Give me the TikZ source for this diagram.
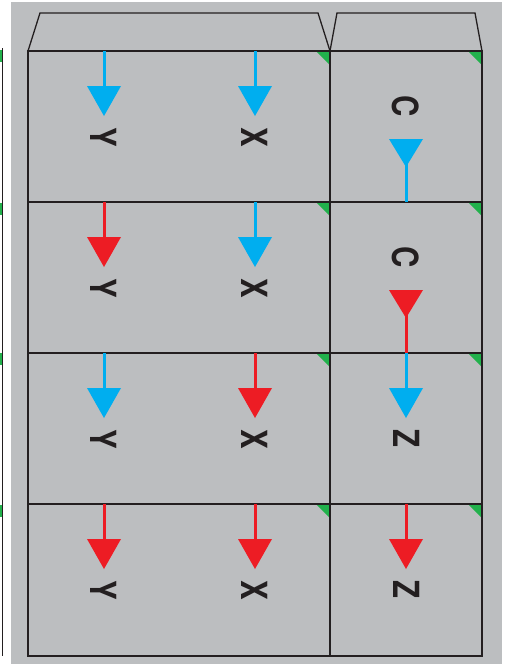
\documentclass[tikz,border=0pt]{standalone}
\usepackage{fontspec}
\setmainfont{TeX Gyre Heros}
\definecolor{bggray}{RGB}{188,190,192}
\definecolor{lineink}{RGB}{35,31,32}
\definecolor{arrblue}{RGB}{0,174,239}
\definecolor{arrred}{RGB}{237,28,36}
\definecolor{markgreen}{RGB}{34,177,76}
\tikzset{
  x=1pt, y=-1pt,
  cellline/.style={draw=lineink, line width=1.3pt},
  greenmark/.style={fill=markgreen},
  letterlbl/.style={rotate=-90, inner sep=0pt, text=lineink,
    font=\fontsize{36}{36}\selectfont\bfseries},
  pics/downarr/.style={code={
    \draw[line width=3pt] (0,0) -- (0,40);
    \fill (-17,35) -- (17,35) -- (0,65) -- cycle;
  }},
  pics/uparrhead/.style={code={
    \draw[line width=3pt] (0,0) -- (0,-40);
    \fill (-17,-63) -- (17,-63) -- (0,-35) -- cycle;
  }},
}
\begin{document}
\begin{tikzpicture}
\useasboundingbox (0,0) rectangle (509,665);
\fill[white] (0,0) rectangle (509,665);
% neighbour strip on the left
\foreach \yy in {50,203,353,505} {
  \fill[markgreen] (0,\yy) rectangle (2,\yy+12);
}
\draw[lineink, line width=1.2pt] (2.4,48) -- (2.4,656);
% grey sheet
\fill[bggray] (11,2) rectangle (502,664);
% green corner marks
\foreach \xx in {330,482} {
  \foreach \yy in {51,202,353,504} {
    \fill[greenmark] (\xx-14,\yy) -- (\xx,\yy) -- (\xx,\yy+14) -- cycle;
  }
}
% tabs
\draw[cellline, line join=miter] (28,51) -- (40,13) -- (318,13) -- (330,51);
\draw[cellline, line join=miter] (330,51) -- (337,13) -- (475,13) -- (482,51);
% cells
\draw[cellline] (28,51) rectangle (482,656);
\draw[cellline] (330,51) -- (330,656);
\foreach \yy in {202,353,504} {
  \draw[cellline] (28,\yy) -- (482,\yy);
}
% named anchor coordinates of rows
\coordinate (r1) at (0,51);
\coordinate (r2) at (0,202);
\coordinate (r3) at (0,353);
\coordinate (r4) at (0,504);
% arrows column 1
\pic[color=arrblue] at (104,51) {downarr};
\pic[color=arrred]  at (104,202) {downarr};
\pic[color=arrblue] at (104,353) {downarr};
\pic[color=arrred]  at (104,504) {downarr};
% arrows column 2
\pic[color=arrblue] at (255,51) {downarr};
\pic[color=arrblue] at (255,202) {downarr};
\pic[color=arrred]  at (255,353) {downarr};
\pic[color=arrred]  at (255,504) {downarr};
% arrows column 3
\pic[color=arrblue] at (406,202) {uparrhead};
\pic[color=arrred]  at (406,353) {uparrhead};
\pic[color=arrblue] at (406,353) {downarr};
\pic[color=arrred]  at (406,504) {downarr};
% letters
\foreach \yy/\nm in {137/1,288/2,439/3,590/4} {
  \node[letterlbl] (y\nm) at (104,\yy) {\scalebox{0.82}[1]{Y}};
  \node[letterlbl] (x\nm) at (255,\yy) {\scalebox{0.82}[1]{X}};
}
\node[letterlbl] (c1) at (406,106) {\scalebox{0.82}[1]{C}};
\node[letterlbl] (c2) at (406,257) {\scalebox{0.82}[1]{C}};
\node[letterlbl] (z3) at (407,439) {\scalebox{0.82}[1]{Z}};
\node[letterlbl] (z4) at (407,590) {\scalebox{0.82}[1]{Z}};
\end{tikzpicture}
\end{document}
